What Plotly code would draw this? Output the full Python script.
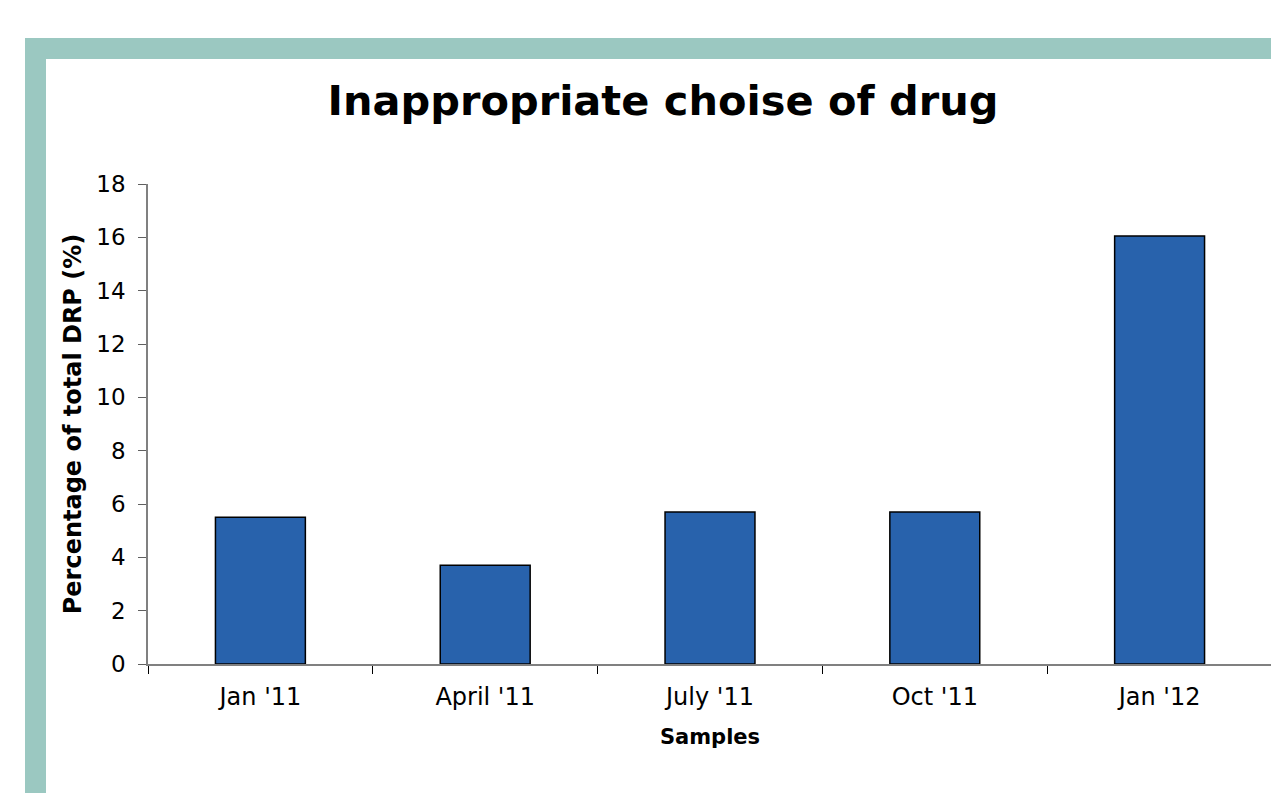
import plotly.graph_objects as go

categories = ["Jan '11", "April '11", "July '11", "Oct '11", "Jan '12"]
values = [5.5, 3.7, 5.7, 5.7, 16.05]
y_ticks = [0, 2, 4, 6, 8, 10, 12, 14, 16, 18]

# page body has an 8px margin; work in screen coordinates and convert
OFF = 8
W, H = 1279 - OFF, 793 - OFF
L, R, T, B = 148 - OFF, 1272 - OFF, 184 - OFF, 664 - OFF

def px(x):
    return (x - OFF - L) / (R - L)

def py(y):
    return (B - (y - OFF)) / (B - T)

fig = go.Figure(go.Bar(
    x=categories, y=values, width=0.4,
    marker=dict(color="#2862AC", line=dict(color="#000000", width=1.5)),
))

teal = "#9BC8C1"
fig.add_shape(type="rect", xref="paper", yref="paper",
              x0=px(25), x1=px(1300), y0=py(38), y1=py(59),
              fillcolor=teal, line_width=0, layer="below")
fig.add_shape(type="rect", xref="paper", yref="paper",
              x0=px(25), x1=px(46), y0=py(38), y1=py(820),
              fillcolor=teal, line_width=0, layer="below")

fig.update_layout(
    width=W, height=H,
    margin=dict(l=L, r=W - R, t=T, b=H - B, pad=0),
    paper_bgcolor="white", plot_bgcolor="white",
    font=dict(family="DejaVu Sans", color="black"),
    title=dict(text="<b>Inappropriate choise of drug</b>", xref="container",
               x=(663 - OFF) / W, xanchor="center",
               yref="container", y=1 - (100 - OFF) / H, yanchor="middle",
               font=dict(size=41.5, family="DejaVu Sans")),
    showlegend=False,
)
fig.update_xaxes(
    showline=True, linecolor="#808080", linewidth=1.5,
    ticks="outside", tickson="boundaries", ticklen=8, tickcolor="#000000",
    tickfont=dict(size=24), showgrid=False, ticklabelstandoff=10,
    title=dict(text="<b>Samples</b>", font=dict(size=21), standoff=20),
)
fig.update_yaxes(
    range=[0, 18], tickvals=y_ticks,
    showline=True, linecolor="#808080", linewidth=1.5,
    ticks="outside", ticklen=8, tickcolor="#606060",
    tickfont=dict(size=23), showgrid=False, zeroline=False, ticklabelstandoff=8,
    title=dict(text="<b>Percentage of total DRP (%)</b>", font=dict(size=24), standoff=8),
)

fig.write_html("out.html")
